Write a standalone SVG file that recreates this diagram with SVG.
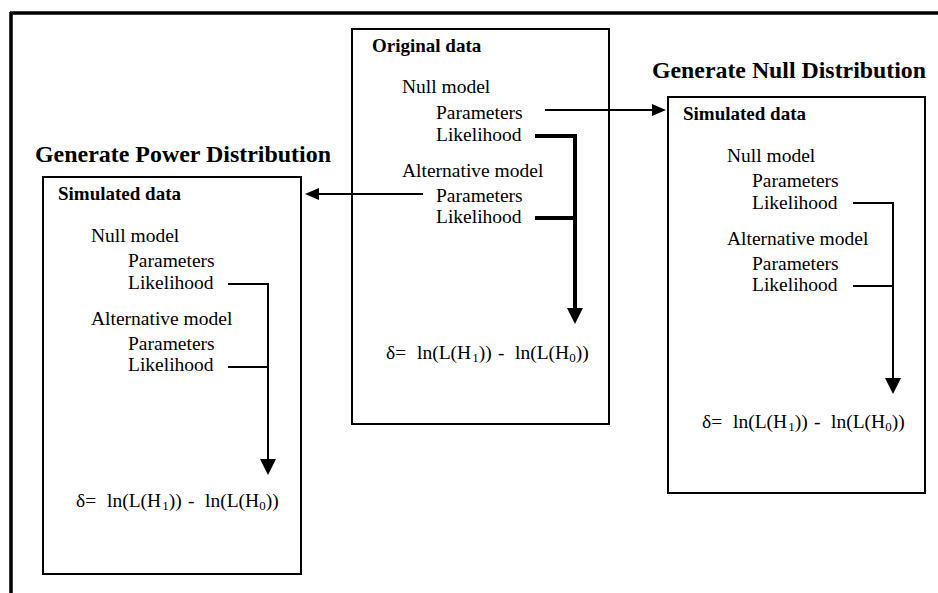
<svg xmlns="http://www.w3.org/2000/svg" width="938" height="593" viewBox="0 0 938 593">
  <style>
    .box { fill: #fff; stroke: #000; stroke-width: 2; }
    .t { font-family: "Liberation Serif", "Times New Roman", serif; font-size: 19.5px; fill: #000; }
    .b { font-weight: bold; font-size: 19px; }
    .h { font-weight: bold; font-size: 23px; }
    .sub { font-size: 13px; }
    .thick { fill: none; stroke: #000; stroke-width: 4; }
    .thin { fill: none; stroke: #000; stroke-width: 2; }
    .frame { fill: none; stroke: #000; stroke-width: 3.5; }
  </style>
  <defs>
    <marker id="ahv" markerUnits="userSpaceOnUse" markerWidth="16" markerHeight="16" viewBox="0 0 16 16" refX="0" refY="8" orient="auto">
      <path d="M0,0 L16,8 L0,16 Z" fill="#000"/>
    </marker>
    <marker id="ahh" markerUnits="userSpaceOnUse" markerWidth="14" markerHeight="12" viewBox="0 0 14 12" refX="0" refY="6" orient="auto">
      <path d="M0,0 L14,6 L0,12 Z" fill="#000"/>
    </marker>
  </defs>
  <rect width="938" height="593" fill="#fff"/>
  <g id="frame">
    <path class="frame" d="M10,13 H938 M11,12 V593"/>
  </g>

  <g id="original-data" transform="translate(352,29)">
    <rect class="box" x="0" y="0" width="257" height="395"/>
    <text class="t b" x="20" y="23">Original data</text>
    <text class="t" x="50" y="64">Null model</text>
    <text class="t" x="84" y="90">Parameters</text>
    <text class="t" x="84" y="112">Likelihood</text>
    <text class="t" x="50" y="148">Alternative model</text>
    <text class="t" x="84" y="173">Parameters</text>
    <text class="t" x="84" y="194">Likelihood</text>
    <text class="t" x="34" y="330">δ= <tspan x="65">ln(L(H</tspan><tspan class="sub" dx="1" dy="3">1</tspan><tspan dy="-3">))</tspan> <tspan x="146">-</tspan> <tspan x="163">ln(L(H</tspan><tspan class="sub" dy="3">0</tspan><tspan dy="-3">))</tspan></text>
  </g>

  <g id="null-distribution" transform="translate(668,97)">
    <text class="t h" x="-16" y="-19" textLength="274" lengthAdjust="spacingAndGlyphs">Generate Null Distribution</text>
    <rect class="box" x="0" y="0" width="257" height="396"/>
    <text class="t b" x="15" y="23">Simulated data</text>
    <text class="t" x="59" y="65">Null model</text>
    <text class="t" x="84" y="90">Parameters</text>
    <text class="t" x="84" y="112">Likelihood</text>
    <text class="t" x="59" y="148">Alternative model</text>
    <text class="t" x="84" y="173">Parameters</text>
    <text class="t" x="84" y="194">Likelihood</text>
    <text class="t" x="34" y="331">δ= <tspan x="65">ln(L(H</tspan><tspan class="sub" dx="1" dy="3">1</tspan><tspan dy="-3">))</tspan> <tspan x="146">-</tspan> <tspan x="163">ln(L(H</tspan><tspan class="sub" dy="3">0</tspan><tspan dy="-3">))</tspan></text>
  </g>

  <g id="power-distribution" transform="translate(43,177)">
    <text class="t h" x="-8" y="-15" textLength="296" lengthAdjust="spacingAndGlyphs">Generate Power Distribution</text>
    <rect class="box" x="0" y="0" width="258" height="397"/>
    <text class="t b" x="15" y="23">Simulated data</text>
    <text class="t" x="48" y="65">Null model</text>
    <text class="t" x="85" y="90">Parameters</text>
    <text class="t" x="85" y="112">Likelihood</text>
    <text class="t" x="48" y="148">Alternative model</text>
    <text class="t" x="85" y="173">Parameters</text>
    <text class="t" x="85" y="194">Likelihood</text>
    <text class="t" x="33" y="330">δ= <tspan x="64">ln(L(H</tspan><tspan class="sub" dx="1" dy="3">1</tspan><tspan dy="-3">))</tspan> <tspan x="145">-</tspan> <tspan x="162">ln(L(H</tspan><tspan class="sub" dy="3">0</tspan><tspan dy="-3">))</tspan></text>
  </g>

  <g id="connectors">
    <path class="thin" d="M545,110 H652" stroke-width="2.5" marker-end="url(#ahh)"/>
    <path class="thin" d="M423,194 H319" stroke-width="1.5" marker-end="url(#ahh)"/>
    <path class="thick" d="M535,136 H575 V308" marker-end="url(#ahv)"/>
    <path class="thick" d="M535,218 H575"/>
    <path class="thin" d="M853,203 H893 V378" marker-end="url(#ahv)"/>
    <path class="thin" d="M853,286 H893"/>
    <path class="thin" d="M228,284 H268 V459" marker-end="url(#ahv)"/>
    <path class="thin" d="M228,367 H268"/>
  </g>
</svg>
